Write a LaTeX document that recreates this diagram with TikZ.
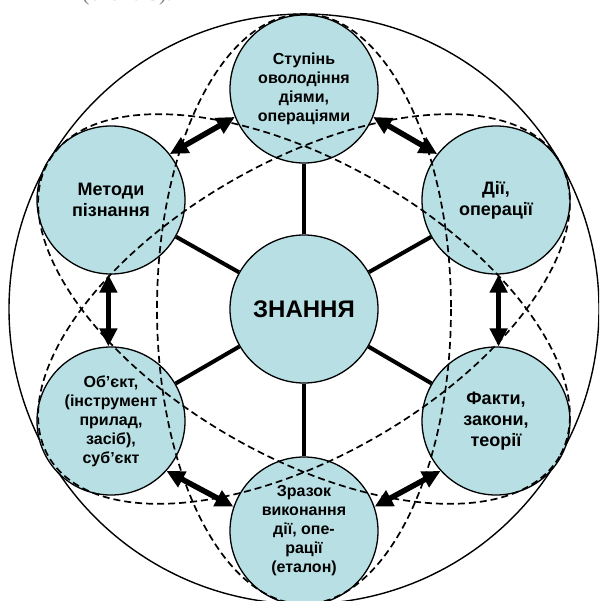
\documentclass[tikz,border=0pt]{standalone}
\usepackage{fontspec}
\setmainfont{Liberation Sans}
\newfontfamily\serifgray{Liberation Serif}
\usetikzlibrary{arrows.meta}
\definecolor{circfill}{RGB}{184,224,228}
\begin{document}
\begin{tikzpicture}[x=1pt,y=-1pt,
  topic/.style={circle, draw=black, line width=1.3pt, fill=circfill, minimum size=148pt,
    inner sep=0pt, align=center, font=\bfseries\fontsize{18}{21}\selectfont},
  smalltopic/.style={topic, font=\bfseries\fontsize{16}{19}\selectfont},
  bigtopic/.style={topic, font=\bfseries\fontsize{24}{28}\selectfont},
  spoke/.style={line width=4pt},
  link/.style={line width=5.5pt,
    {Triangle[length=18pt,width=17pt]}-{Triangle[length=18pt,width=17pt]}},
  zone/.style={dash pattern=on 7pt off 4pt, line width=1.7pt},
  rim/.style={line width=1.4pt}
]
\useasboundingbox (0,0) rectangle (599,601);
\clip (0,0) rectangle (599,601);
\coordinate (c) at (304,309);

% caption fragment cut off at the top
\node[anchor=base, text=gray, font=\serifgray\fontsize{22}{26}\selectfont] (cap) at (127,1) {(схема 3).};

% outer circle
\draw[rim] (c) circle (295);

% nodes
\node[bigtopic] (zn) at (c) {ЗНАННЯ};
\node[smalltopic] (st) at (304,89) {Ступінь\\оволодіння\\діями,\\операціями};
\node[topic] (me) at (111,200) {Методи\\пізнання};
\node[topic] (di) at (496,200) {Дії,\\операції};
\node[smalltopic] (ob) at (111,421) {Об’єкт,\\(інструмент\\прилад,\\засіб),\\суб’єкт};
\node[topic] (fa) at (496,421) {Факти,\\закони,\\теорії};
\node[smalltopic] (zr) at (304,531) {Зразок\\виконання\\дії, опе-\\рації\\(еталон)};

% spokes
\foreach \n in {st,me,di,ob,fa,zr} \draw[spoke] (zn) -- (\n);

% dashed ellipses
\draw[zone] (c) ellipse [x radius=147, y radius=295];
\draw[zone, rotate around={30:(c)}] (c) ellipse [x radius=295, y radius=147];
\draw[zone, rotate around={-30:(c)}] (c) ellipse [x radius=295, y radius=147];

% double arrows
\draw[link] (me.38) -- (st.202);
\draw[link] (st.338) -- (di.142);
\draw[link] (me.268) -- (ob.92);
\draw[link] (di.272) -- (fa.88);
\draw[link] (ob.-42) -- (zr.161);
\draw[link] (zr.19) -- (fa.222);
\end{tikzpicture}
\end{document}
